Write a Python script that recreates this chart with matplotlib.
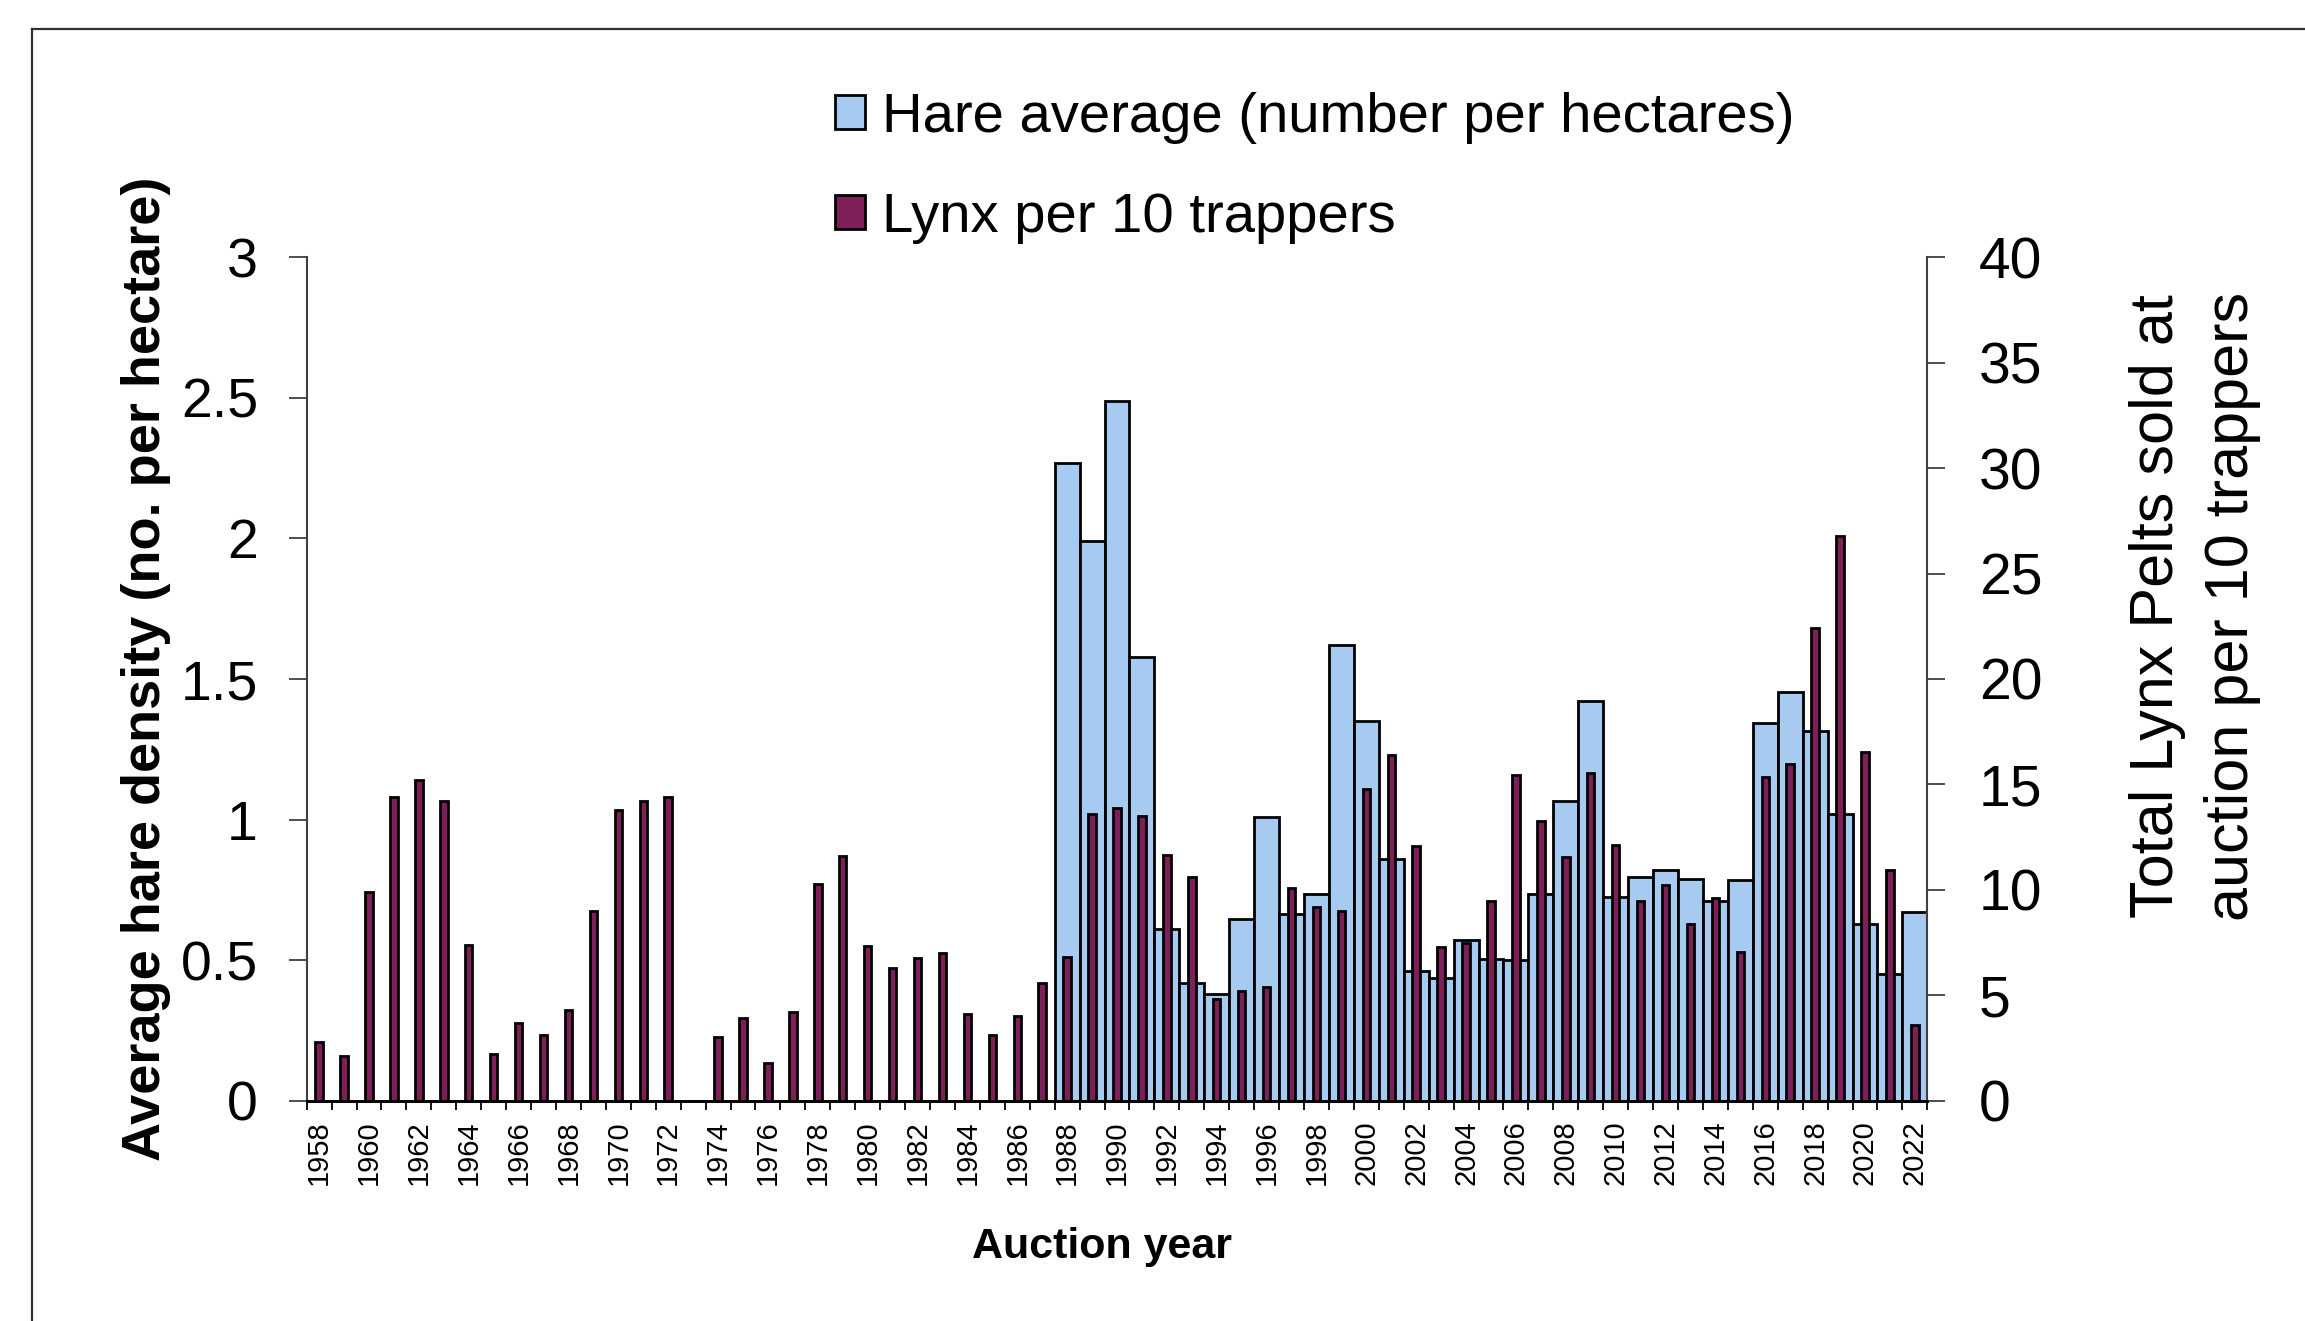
import numpy as np
import matplotlib.pyplot as plt
from matplotlib.patches import Patch
from matplotlib.lines import Line2D

plt.rcParams['font.family'] = ['Liberation Sans', 'DejaVu Sans']

years = np.arange(1958, 2023)

# hare density (no. per hectare), surveys start 1988
hare_years = np.arange(1988, 2023)
hare = [2.27, 1.99, 2.49, 1.58, 0.61, 0.42, 0.38, 0.645, 1.01, 0.665,
        0.735, 1.62, 1.35, 0.86, 0.46, 0.435, 0.57, 0.505, 0.50, 0.735,
        1.065, 1.42, 0.725, 0.795, 0.82, 0.79, 0.71, 0.785, 1.345, 1.455,
        1.315, 1.02, 0.63, 0.45, 0.67]

# lynx pelts per 10 trappers (no data for 1973)
lynx = [2.8, 2.1, 9.9, 14.4, 15.2, 14.2, 7.4, 2.2, 3.7, 3.1,
        4.3, 9.0, 13.8, 14.2, 14.4, np.nan, 3.0, 3.9, 1.8, 4.2,
        10.3, 11.6, 7.35, 6.3, 6.75, 7.0, 4.1, 3.1, 4.0, 5.6,
        6.8, 13.6, 13.9, 13.5, 11.65, 10.6, 4.8, 5.2, 5.4, 10.1,
        9.2, 9.0, 14.8, 16.4, 12.1, 7.3, 7.5, 9.45, 15.45, 13.25,
        11.55, 15.55, 12.15, 9.45, 10.25, 8.4, 9.6, 7.05, 15.35, 15.95,
        22.4, 26.8, 16.55, 10.95, 3.6]

hare_color = '#A6CAF0'
lynx_color = '#7F1F5A'
spine_color = '#404040'

W, H = 2305, 1321
fig = plt.figure(figsize=(W / 100, H / 100), dpi=100)
ax = fig.add_axes([306.7 / W, 1 - 1100.7 / H, (1927.3 - 306.7) / W, (1100.7 - 257.3) / H])

x_all = np.arange(len(years))
x_hare = hare_years - years[0]

ax.bar(x_hare, hare, width=1.0, color=hare_color, edgecolor='black', linewidth=2.0)
ax.set_ylim(0, 3)
ax.set_yticks([0, 0.5, 1, 1.5, 2, 2.5, 3])
ax.set_yticklabels(['0', '0.5', '1', '1.5', '2', '2.5', '3'])
ax.set_xlim(-0.5, len(years) - 0.5)

ax2 = ax.twinx()
ax2.bar(x_all, lynx, width=0.3, color=lynx_color, edgecolor='black', linewidth=2.0)
ax2.set_ylim(0, 40)
ax2.set_yticks(range(0, 41, 5))

# category boundary ticks, labels every second year
ax.set_xticks(np.arange(len(years) + 1) - 0.5)
ax.set_xticklabels([])
ax.set_xticks(x_all[::2], minor=True)
ax.set_xticklabels([str(y) for y in years[::2]], minor=True, rotation=90, fontsize=21)
ax.tick_params(axis='x', which='major', direction='out', length=6.5, width=1.3, color='black')
ax.tick_params(axis='x', which='minor', length=0, pad=14)

ax.tick_params(axis='y', direction='out', length=13, width=1.3, color=spine_color,
               labelsize=40, pad=22)
ax2.tick_params(axis='y', direction='out', length=13, width=1.3, color=spine_color,
                labelsize=41, pad=24)

for a in (ax, ax2):
    a.spines['top'].set_visible(False)
    a.spines['left'].set_color(spine_color)
    a.spines['right'].set_color(spine_color)
    a.spines['left'].set_linewidth(1.5)
    a.spines['right'].set_linewidth(1.5)
    a.spines['bottom'].set_linewidth(2.0)
    a.spines['bottom'].set_color('black')
ax2.spines['left'].set_visible(False)
ax.spines['right'].set_visible(False)

fig.text(1102 / W, 1 - 1247 / H, 'Auction year', fontsize=31, fontweight='bold',
         ha='center', va='center')
fig.text(146 / W, 1 - 669 / H, 'Average hare density (no. per hectare)', rotation=90,
         fontsize=39, fontweight='bold', ha='center', va='center')
fig.text(2195 / W, 1 - 606 / H, 'Total Lynx Pelts sold at\nauction per 10 trappers',
         rotation=90, fontsize=44, ha='center', va='center', linespacing=1.4)

handles = [Patch(facecolor=hare_color, edgecolor='black', linewidth=2.0),
           Patch(facecolor=lynx_color, edgecolor='black', linewidth=2.0)]
fig.legend(handles, ['Hare average (number per hectares)', 'Lynx per 10 trappers'],
           loc='upper left', bbox_to_anchor=(835 / W, 1 - 92 / H), frameon=False,
           fontsize=40.5, handlelength=0.54, handleheight=0.54, handletextpad=0.3,
           labelspacing=0.85, borderaxespad=0, borderpad=0)

# outer chart border (cut off at right and bottom)
fig.add_artist(Line2D([32 / W, 1], [1 - 29 / H, 1 - 29 / H], color='#303030', linewidth=1.6))
fig.add_artist(Line2D([32 / W, 32 / W], [0, 1 - 29 / H], color='#303030', linewidth=1.6))

fig.savefig('out.png', dpi=100)
